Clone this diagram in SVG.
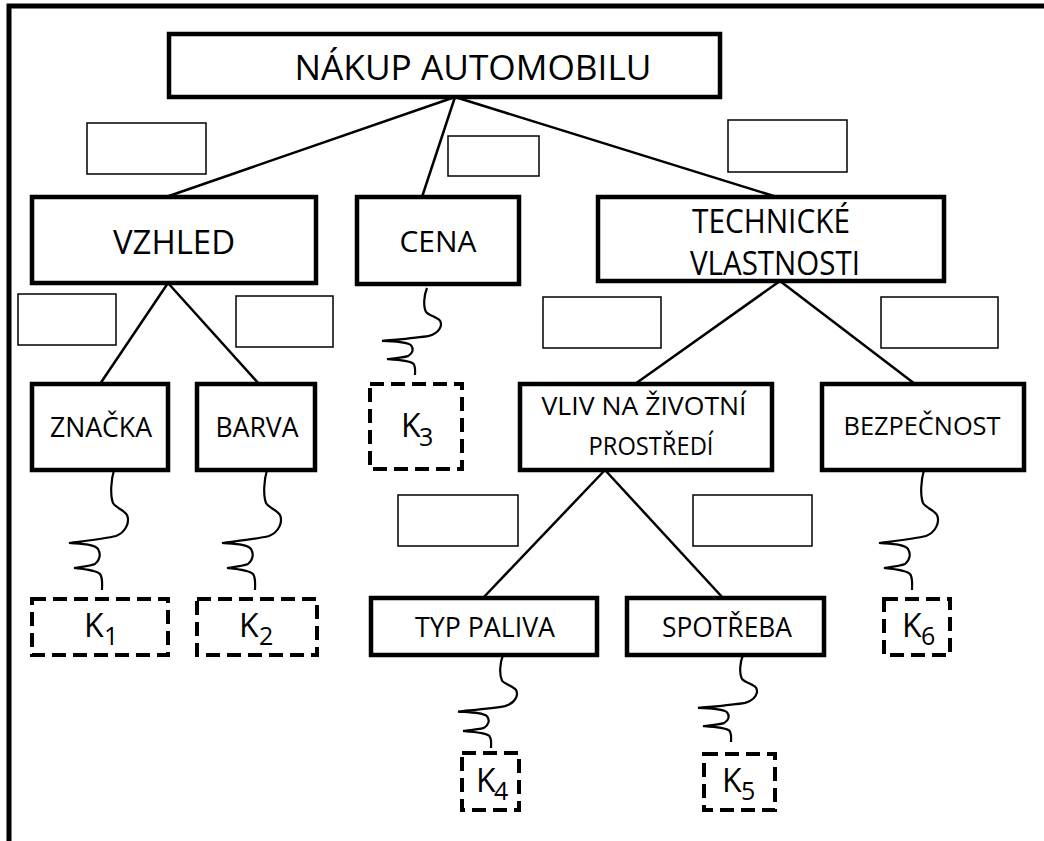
<svg xmlns="http://www.w3.org/2000/svg" xmlns:xlink="http://www.w3.org/1999/xlink" width="1044" height="841" viewBox="0 0 1044 841">
<style>
.box{fill:#fff;stroke:#000;stroke-width:4.5}
.kbox{fill:#fff;stroke:#000;stroke-width:4;stroke-dasharray:14 7}
.lbl{fill:#fff;stroke:#000;stroke-width:1.5}
.con{stroke:#000;stroke-width:2.5;fill:none}
.sq{stroke:#000;stroke-width:2.2;fill:none;vector-effect:non-scaling-stroke}
text{font-family:"Open Sans","Noto Sans","Liberation Sans",sans-serif;fill:#000;text-anchor:middle}
.k{text-anchor:start;font-size:32px}
</style>
<defs>
<path id="sq" class="sq" d="M0,0 C-3,10 -4,25 -1,33 C2,38 10,40 13,45 C16,52 12,62 2,66 C-10,69 -30,71 -45,73 C-32,74 -20,74 -16,79 C-13,84 -14,90 -19,94 C-24,96 -33,97 -40,98 C-30,99 -18,100 -14,104 C-11,108 -12,114 -12,120"/>
</defs>
<rect width="1044" height="841" fill="#fff"/>
<path d="M9,841 L9,6 L1044,6" fill="none" stroke="#000" stroke-width="5"/>

<g id="connectors">
<line class="con" x1="455" y1="97" x2="166" y2="197"/>
<line class="con" x1="455" y1="97" x2="422" y2="197"/>
<line class="con" x1="455" y1="97" x2="777" y2="197"/>
<line class="con" x1="168" y1="283" x2="100" y2="384"/>
<line class="con" x1="168" y1="283" x2="259" y2="384"/>
<line class="con" x1="780" y1="281" x2="635" y2="384"/>
<line class="con" x1="780" y1="281" x2="915" y2="384"/>
<line class="con" x1="605" y1="470" x2="483" y2="598"/>
<line class="con" x1="605" y1="470" x2="723" y2="598"/>
<use xlink:href="#sq" transform="translate(114,470)"/>
<use xlink:href="#sq" transform="translate(267,470)"/>
<use xlink:href="#sq" transform="translate(427,288) scale(1,0.725)"/>
<use xlink:href="#sq" transform="translate(924,470)"/>
<use xlink:href="#sq" transform="translate(503,655) scale(1,0.775)"/>
<use xlink:href="#sq" transform="translate(743,655) scale(1,0.725)"/>
</g>

<g id="labels">
<rect class="lbl" x="87" y="123" width="119" height="51"/>
<rect class="lbl" x="448" y="136" width="91" height="40"/>
<rect class="lbl" x="728" y="120" width="119" height="52"/>
<rect class="lbl" x="18" y="294" width="98" height="51"/>
<rect class="lbl" x="236" y="296" width="97" height="51"/>
<rect class="lbl" x="543" y="297" width="118" height="51"/>
<rect class="lbl" x="881" y="297" width="117" height="51"/>
<rect class="lbl" x="398" y="495" width="120" height="51"/>
<rect class="lbl" x="693" y="495" width="119" height="51"/>
</g>

<g id="n-root"><rect class="box" x="169" y="34" width="551" height="63"/><text x="473" y="80" font-size="35" textLength="357" lengthAdjust="spacingAndGlyphs">NÁKUP AUTOMOBILU</text></g>
<g id="n-vzhled"><rect class="box" x="32" y="197" width="284" height="86"/><text x="174" y="254" font-size="33" textLength="122" lengthAdjust="spacingAndGlyphs">VZHLED</text></g>
<g id="n-cena"><rect class="box" x="357" y="197" width="162" height="87"/><text x="438" y="252" font-size="30" textLength="77" lengthAdjust="spacingAndGlyphs">CENA</text></g>
<g id="n-tech"><rect class="box" x="598" y="197" width="346" height="84"/><text x="771" y="233" font-size="32" textLength="158" lengthAdjust="spacingAndGlyphs">TECHNICKÉ</text><text x="775" y="275" font-size="32" textLength="170" lengthAdjust="spacingAndGlyphs">VLASTNOSTI</text></g>
<g id="n-znacka"><rect class="box" x="32" y="384" width="136" height="86"/><text x="101" y="437" font-size="28" textLength="102" lengthAdjust="spacingAndGlyphs">ZNAČKA</text></g>
<g id="n-barva"><rect class="box" x="197" y="384" width="118" height="86"/><text x="257" y="437" font-size="28" textLength="83" lengthAdjust="spacingAndGlyphs">BARVA</text></g>
<g id="n-vliv"><rect class="box" x="520" y="384" width="252" height="86"/><text x="644" y="415" font-size="25.5" textLength="205" lengthAdjust="spacingAndGlyphs">VLIV NA ŽIVOTNÍ</text><text x="651" y="455" font-size="25.5" textLength="125" lengthAdjust="spacingAndGlyphs">PROSTŘEDÍ</text></g>
<g id="n-bezpecnost"><rect class="box" x="822" y="384" width="202" height="86"/><text x="922" y="435" font-size="25.5" textLength="157" lengthAdjust="spacingAndGlyphs">BEZPEČNOST</text></g>
<g id="n-typ"><rect class="box" x="371" y="598" width="226" height="57"/><text x="485" y="637" font-size="27" textLength="140" lengthAdjust="spacingAndGlyphs">TYP PALIVA</text></g>
<g id="n-spotreba"><rect class="box" x="627" y="598" width="197" height="57"/><text x="727" y="637" font-size="27" textLength="130" lengthAdjust="spacingAndGlyphs">SPOTŘEBA</text></g>

<g id="k1"><rect class="kbox" x="32" y="599" width="136" height="56"/><text class="k" x="84" y="637">K<tspan x="104" y="645" font-size="25">1</tspan></text></g>
<g id="k2"><rect class="kbox" x="197" y="599" width="120" height="56"/><text class="k" x="239" y="637">K<tspan x="259" y="645" font-size="25">2</tspan></text></g>
<g id="k3"><rect class="kbox" x="370" y="384" width="92" height="85"/><text class="k" x="401" y="437">K<tspan x="419" y="446" font-size="25">3</tspan></text></g>
<g id="k4"><rect class="kbox" x="462" y="753" width="57" height="57"/><text class="k" x="476" y="792">K<tspan x="494" y="800" font-size="25">4</tspan></text></g>
<g id="k5"><rect class="kbox" x="704" y="754" width="71" height="56"/><text class="k" x="722" y="792">K<tspan x="741" y="800" font-size="25">5</tspan></text></g>
<g id="k6"><rect class="kbox" x="884" y="599" width="66" height="56"/><text class="k" x="902" y="637">K<tspan x="921" y="645" font-size="25">6</tspan></text></g>
</svg>
